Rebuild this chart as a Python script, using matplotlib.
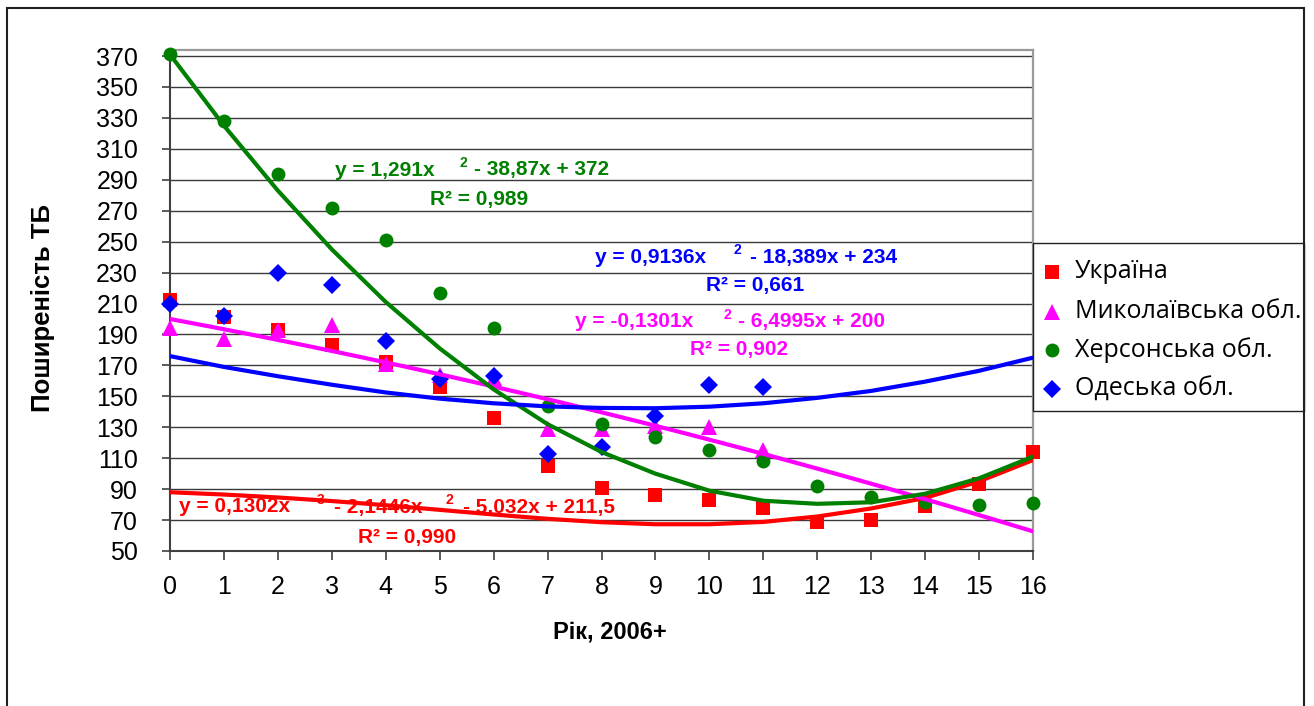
import matplotlib
matplotlib.use("Agg")
import numpy as np
import matplotlib.pyplot as plt
from matplotlib.patches import Rectangle
from matplotlib.lines import Line2D

plt.rcParams["font.family"] = ["Liberation Sans", "DejaVu Sans"]

W, H = 1314, 706

# ---- data -------------------------------------------------------------
years = list(range(17))
series_names = ["Україна", "Миколаївська обл.", "Херсонська обл.", "Одеська обл."]

ukraine = [212, 201, 193, 183, 172, 156, 136, 105, 91, 86, 83, 78, 69, 70, 79, 93, 114]
mykolaiv = [194, 187, 193, 196, 171, 164, 162, 129, 129, 131, 130, 115]
kherson = [371, 328, 294, 272, 251, 217, 194, 144, 132, 124, 115, 108, 92, 85, 82, 80, 81]
odesa = [210, 202, 230, 222, 186, 161, 163, 113, 117, 137, 157, 156]

# trend curves, one value per year
ukraine_trend = [88, 86.5, 84.6, 82.3, 79.6, 76.6, 73.6, 70.8, 68.6, 67.3, 67.3, 68.8,
                 72.3, 77.5, 84.3, 95, 108.8]
kherson_trend = [371, 325, 283, 245, 211, 181, 154.5, 132, 114, 100, 89, 82.5,
                 80.5, 81.5, 87, 97, 111]
odesa_trend = [176, 169, 163, 157.5, 152.5, 148.5, 145.5, 143.5, 142.5, 142.3, 143.3,
               145.5, 149, 153.5, 159.5, 166.5, 175]
# Mykolaiv trend: y = -0,1301x^2 - 6,4995x + 200
mykolaiv_coef = [-0.1301, -6.4995, 200]

y_ticks = list(range(50, 371, 20))
x_ticks = list(range(0, 17))

# ---- styling ----------------------------------------------------------
colors = ["#FF0000", "#FF00FF", "#008000", "#0000FF"]
markers = ["s", "^", "o", "D"]
msizes = [10, 11, 10, 8.7]


def fx(px):
    return px / W


def fy(py):
    return 1 - py / H


fig = plt.figure(figsize=(W / 100, H / 100), dpi=100)
fig.patch.set_facecolor("white")
ax = fig.add_axes([fx(170), fy(551), (1033 - 170) / W, (551 - 50) / H])

values = [ukraine, mykolaiv, kherson, odesa]

for vals, c, m, s in zip(values, colors, markers, msizes):
    ax.plot(years[:len(vals)], vals, linestyle="none", marker=m, markersize=s,
            color=c, markeredgewidth=0, zorder=3, clip_on=False)

xs = np.linspace(years[0], years[-1], 200)
trend_lines = [
    (years, ukraine_trend),
    (xs, np.polyval(mykolaiv_coef, xs)),
    (years, kherson_trend),
    (years, odesa_trend),
]
for (tx, ty), c in zip(trend_lines, colors):
    ax.plot(tx, ty, color=c, linewidth=3.0, zorder=4,
            solid_joinstyle="round", solid_capstyle="round")

ax.set_xlim(0, 16)
ax.set_ylim(50, 373.9)
ax.set_xticks(x_ticks)
ax.set_yticks(y_ticks)
ax.yaxis.grid(True, color="#3a3a3a", linewidth=1.0)
ax.set_axisbelow(True)

for side in ("top", "right"):
    ax.spines[side].set_color("#9a9a9a")
    ax.spines[side].set_linewidth(1.6)
ax.spines["left"].set_color("#404040")
ax.spines["left"].set_linewidth(1.5)
ax.spines["bottom"].set_color("#404040")
ax.spines["bottom"].set_linewidth(1.5)

ax.tick_params(axis="y", direction="out", length=6, width=1.2, pad=17,
               labelsize=18, color="#404040")
ax.tick_params(axis="x", direction="out", length=6.5, width=1.2, pad=11,
               labelsize=18, color="#404040")

fig.text(fx(43), fy(308), "Поширеність ТБ", rotation=90, ha="center",
         va="center", fontsize=18.5, fontweight="bold")
fig.text(fx(610), fy(632), "Рік, 2006+", ha="center", va="center",
         fontsize=17, fontweight="bold")

# ---- trend equations --------------------------------------------------
EQ = 15
SUP = 10
eq_pieces = [
    # kherson
    ("y = 1,291x", 335, 170, EQ, colors[2]),
    ("2", 459, 163, SUP, colors[2]),
    ("- 38,87x + 372", 474, 170, EQ, colors[2]),
    ("R² = 0,989", 430, 199, EQ, colors[2]),
    # odesa
    ("y = 0,9136x", 595, 257, EQ, colors[3]),
    ("2", 733, 250, SUP, colors[3]),
    ("- 18,389x + 234", 750, 257, EQ, colors[3]),
    ("R² = 0,661", 706, 286, EQ, colors[3]),
    # mykolaiv
    ("y = -0,1301x", 575, 322, EQ, colors[1]),
    ("2", 724, 315, SUP, colors[1]),
    ("- 6,4995x + 200", 738, 322, EQ, colors[1]),
    ("R² = 0,902", 690, 350, EQ, colors[1]),
    # ukraine
    ("y = 0,1302x", 179, 507, EQ, colors[0]),
    ("3", 317, 500, SUP, colors[0]),
    ("- 2,1446x", 334, 507, EQ, colors[0]),
    ("2", 446, 500, SUP, colors[0]),
    ("- 5,032x + 211,5", 463, 507, EQ, colors[0]),
    ("R² = 0,990", 358, 537, EQ, colors[0]),
]
for txt, x, y, size, col in eq_pieces:
    fig.text(fx(x), fy(y), txt, ha="left", va="center", fontsize=size,
             fontweight="bold", color=col, zorder=5)

# ---- legend -----------------------------------------------------------
fig.add_artist(Rectangle((fx(1033), fy(411)), (1304 - 1033) / W, (411 - 243) / H,
                         transform=fig.transFigure, facecolor="white",
                         edgecolor="#202020", linewidth=1.0, zorder=6))
rows = [272, 312, 350, 389]
for name, c, m, s, ry in zip(series_names, colors, markers, msizes, rows):
    fig.add_artist(Line2D([fx(1052)], [fy(ry)], transform=fig.transFigure,
                          marker=m, markersize=s, color=c, markeredgewidth=0,
                          linestyle="none", zorder=7))
    fig.text(fx(1075), fy(ry), name, ha="left", va="center", fontsize=18.0,
             family=["Open Sans", "DejaVu Sans"], zorder=7)

# ---- chart border -----------------------------------------------------
fig.add_artist(Rectangle((fx(7), -0.05), (1304 - 7) / W, fy(8) + 0.05,
                         transform=fig.transFigure, facecolor="none",
                         edgecolor="#202020", linewidth=1.5, zorder=8,
                         clip_on=False))

fig.savefig("out.png", dpi=100)
